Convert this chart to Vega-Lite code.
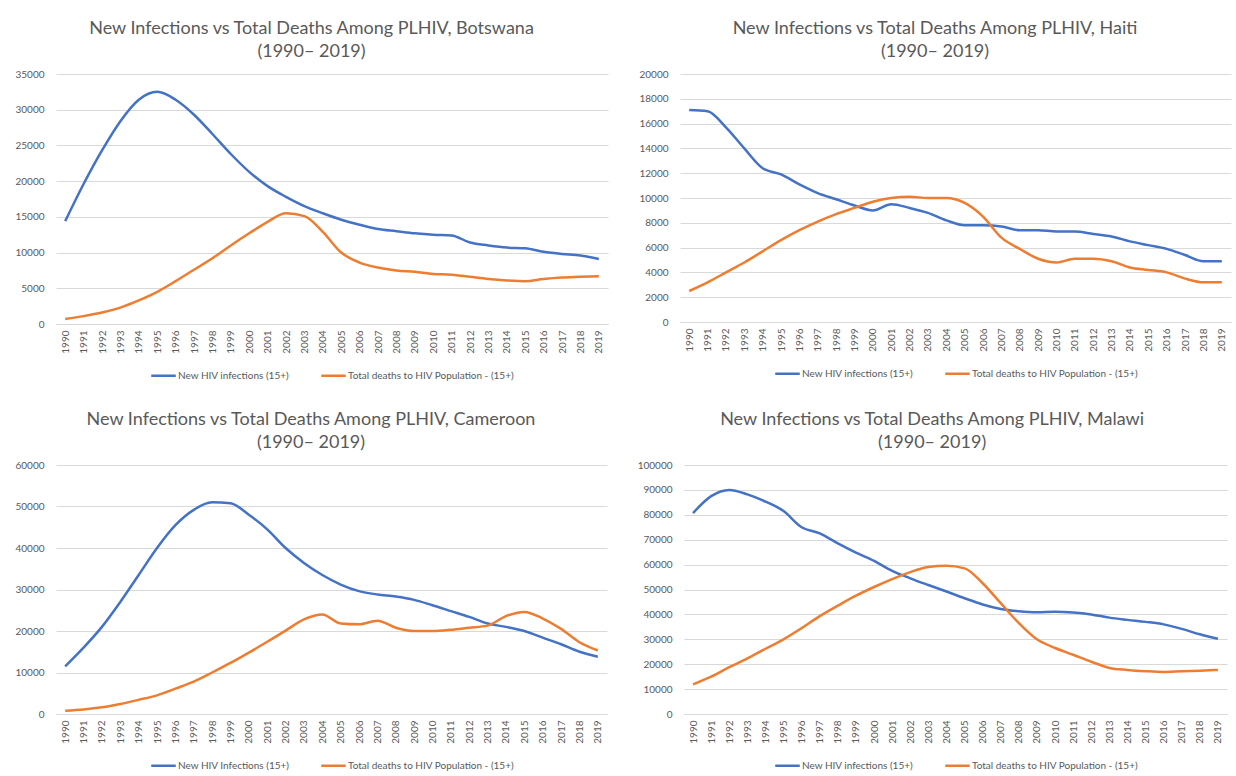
{
  "$schema": "https://vega.github.io/schema/vega-lite/v6.json",
  "background": "white",
  "padding": {"left": 14, "top": 20, "right": 6, "bottom": 4},
  "datasets": {
    "hiv": [
      {"country": "Botswana", "year": 1990, "inf": 14400, "dea": 700},
      {"country": "Botswana", "year": 1991, "inf": 19600, "dea": 1100},
      {"country": "Botswana", "year": 1992, "inf": 24300, "dea": 1600},
      {"country": "Botswana", "year": 1993, "inf": 28400, "dea": 2300},
      {"country": "Botswana", "year": 1994, "inf": 31400, "dea": 3300},
      {"country": "Botswana", "year": 1995, "inf": 32500, "dea": 4500},
      {"country": "Botswana", "year": 1996, "inf": 31400, "dea": 6000},
      {"country": "Botswana", "year": 1997, "inf": 29300, "dea": 7600},
      {"country": "Botswana", "year": 1998, "inf": 26600, "dea": 9200},
      {"country": "Botswana", "year": 1999, "inf": 23800, "dea": 11000},
      {"country": "Botswana", "year": 2000, "inf": 21300, "dea": 12700},
      {"country": "Botswana", "year": 2001, "inf": 19300, "dea": 14300},
      {"country": "Botswana", "year": 2002, "inf": 17800, "dea": 15500},
      {"country": "Botswana", "year": 2003, "inf": 16500, "dea": 15100},
      {"country": "Botswana", "year": 2004, "inf": 15500, "dea": 12900},
      {"country": "Botswana", "year": 2005, "inf": 14600, "dea": 10000},
      {"country": "Botswana", "year": 2006, "inf": 13900, "dea": 8600},
      {"country": "Botswana", "year": 2007, "inf": 13300, "dea": 7900},
      {"country": "Botswana", "year": 2008, "inf": 13000, "dea": 7500},
      {"country": "Botswana", "year": 2009, "inf": 12700, "dea": 7300},
      {"country": "Botswana", "year": 2010, "inf": 12500, "dea": 7000},
      {"country": "Botswana", "year": 2011, "inf": 12400, "dea": 6900},
      {"country": "Botswana", "year": 2012, "inf": 11400, "dea": 6600},
      {"country": "Botswana", "year": 2013, "inf": 11000, "dea": 6300},
      {"country": "Botswana", "year": 2014, "inf": 10700, "dea": 6100},
      {"country": "Botswana", "year": 2015, "inf": 10600, "dea": 6000},
      {"country": "Botswana", "year": 2016, "inf": 10100, "dea": 6300},
      {"country": "Botswana", "year": 2017, "inf": 9800, "dea": 6500},
      {"country": "Botswana", "year": 2018, "inf": 9600, "dea": 6600},
      {"country": "Botswana", "year": 2019, "inf": 9100, "dea": 6700},
      {"country": "Haiti", "year": 1990, "inf": 17100, "dea": 2500},
      {"country": "Haiti", "year": 1991, "inf": 17000, "dea": 3200},
      {"country": "Haiti", "year": 1992, "inf": 15700, "dea": 4000},
      {"country": "Haiti", "year": 1993, "inf": 14000, "dea": 4800},
      {"country": "Haiti", "year": 1994, "inf": 12400, "dea": 5700},
      {"country": "Haiti", "year": 1995, "inf": 11900, "dea": 6600},
      {"country": "Haiti", "year": 1996, "inf": 11100, "dea": 7400},
      {"country": "Haiti", "year": 1997, "inf": 10400, "dea": 8100},
      {"country": "Haiti", "year": 1998, "inf": 9900, "dea": 8700},
      {"country": "Haiti", "year": 1999, "inf": 9400, "dea": 9200},
      {"country": "Haiti", "year": 2000, "inf": 9000, "dea": 9700},
      {"country": "Haiti", "year": 2001, "inf": 9500, "dea": 10000},
      {"country": "Haiti", "year": 2002, "inf": 9200, "dea": 10100},
      {"country": "Haiti", "year": 2003, "inf": 8800, "dea": 10000},
      {"country": "Haiti", "year": 2004, "inf": 8200, "dea": 10000},
      {"country": "Haiti", "year": 2005, "inf": 7800, "dea": 9600},
      {"country": "Haiti", "year": 2006, "inf": 7800, "dea": 8500},
      {"country": "Haiti", "year": 2007, "inf": 7700, "dea": 6800},
      {"country": "Haiti", "year": 2008, "inf": 7400, "dea": 5900},
      {"country": "Haiti", "year": 2009, "inf": 7400, "dea": 5100},
      {"country": "Haiti", "year": 2010, "inf": 7300, "dea": 4800},
      {"country": "Haiti", "year": 2011, "inf": 7300, "dea": 5100},
      {"country": "Haiti", "year": 2012, "inf": 7100, "dea": 5100},
      {"country": "Haiti", "year": 2013, "inf": 6900, "dea": 4900},
      {"country": "Haiti", "year": 2014, "inf": 6500, "dea": 4400},
      {"country": "Haiti", "year": 2015, "inf": 6200, "dea": 4200},
      {"country": "Haiti", "year": 2016, "inf": 5900, "dea": 4000},
      {"country": "Haiti", "year": 2017, "inf": 5400, "dea": 3500},
      {"country": "Haiti", "year": 2018, "inf": 4900, "dea": 3200},
      {"country": "Haiti", "year": 2019, "inf": 4900, "dea": 3200},
      {"country": "Cameroon", "year": 1990, "inf": 11500, "dea": 800},
      {"country": "Cameroon", "year": 1991, "inf": 16000, "dea": 1100},
      {"country": "Cameroon", "year": 1992, "inf": 21000, "dea": 1600},
      {"country": "Cameroon", "year": 1993, "inf": 27000, "dea": 2400},
      {"country": "Cameroon", "year": 1994, "inf": 33500, "dea": 3400},
      {"country": "Cameroon", "year": 1995, "inf": 40000, "dea": 4500},
      {"country": "Cameroon", "year": 1996, "inf": 45500, "dea": 6100},
      {"country": "Cameroon", "year": 1997, "inf": 49200, "dea": 7800},
      {"country": "Cameroon", "year": 1998, "inf": 51000, "dea": 10000},
      {"country": "Cameroon", "year": 1999, "inf": 50800, "dea": 12300},
      {"country": "Cameroon", "year": 2000, "inf": 48000, "dea": 14800},
      {"country": "Cameroon", "year": 2001, "inf": 44500, "dea": 17400},
      {"country": "Cameroon", "year": 2002, "inf": 40000, "dea": 20100},
      {"country": "Cameroon", "year": 2003, "inf": 36400, "dea": 22800},
      {"country": "Cameroon", "year": 2004, "inf": 33500, "dea": 24000},
      {"country": "Cameroon", "year": 2005, "inf": 31200, "dea": 21800},
      {"country": "Cameroon", "year": 2006, "inf": 29600, "dea": 21600},
      {"country": "Cameroon", "year": 2007, "inf": 28800, "dea": 22500},
      {"country": "Cameroon", "year": 2008, "inf": 28300, "dea": 20800},
      {"country": "Cameroon", "year": 2009, "inf": 27500, "dea": 20000},
      {"country": "Cameroon", "year": 2010, "inf": 26200, "dea": 20000},
      {"country": "Cameroon", "year": 2011, "inf": 24800, "dea": 20300},
      {"country": "Cameroon", "year": 2012, "inf": 23400, "dea": 20800},
      {"country": "Cameroon", "year": 2013, "inf": 21800, "dea": 21300},
      {"country": "Cameroon", "year": 2014, "inf": 21000, "dea": 23600},
      {"country": "Cameroon", "year": 2015, "inf": 20000, "dea": 24600},
      {"country": "Cameroon", "year": 2016, "inf": 18400, "dea": 23000},
      {"country": "Cameroon", "year": 2017, "inf": 16800, "dea": 20500},
      {"country": "Cameroon", "year": 2018, "inf": 15000, "dea": 17300},
      {"country": "Cameroon", "year": 2019, "inf": 13800, "dea": 15300},
      {"country": "Malawi", "year": 1990, "inf": 80700, "dea": 11900},
      {"country": "Malawi", "year": 1991, "inf": 87500, "dea": 15000},
      {"country": "Malawi", "year": 1992, "inf": 90000, "dea": 18800},
      {"country": "Malawi", "year": 1993, "inf": 88200, "dea": 22300},
      {"country": "Malawi", "year": 1994, "inf": 85300, "dea": 26200},
      {"country": "Malawi", "year": 1995, "inf": 81500, "dea": 30000},
      {"country": "Malawi", "year": 1996, "inf": 75000, "dea": 34500},
      {"country": "Malawi", "year": 1997, "inf": 72500, "dea": 39300},
      {"country": "Malawi", "year": 1998, "inf": 68500, "dea": 43500},
      {"country": "Malawi", "year": 1999, "inf": 64800, "dea": 47500},
      {"country": "Malawi", "year": 2000, "inf": 61500, "dea": 51000},
      {"country": "Malawi", "year": 2001, "inf": 57500, "dea": 54200},
      {"country": "Malawi", "year": 2002, "inf": 54500, "dea": 57000},
      {"country": "Malawi", "year": 2003, "inf": 51800, "dea": 59000},
      {"country": "Malawi", "year": 2004, "inf": 49200, "dea": 59500},
      {"country": "Malawi", "year": 2005, "inf": 46500, "dea": 58500},
      {"country": "Malawi", "year": 2006, "inf": 44000, "dea": 52500},
      {"country": "Malawi", "year": 2007, "inf": 42200, "dea": 44500},
      {"country": "Malawi", "year": 2008, "inf": 41300, "dea": 36500},
      {"country": "Malawi", "year": 2009, "inf": 40900, "dea": 30000},
      {"country": "Malawi", "year": 2010, "inf": 41100, "dea": 26500},
      {"country": "Malawi", "year": 2011, "inf": 40800, "dea": 23800},
      {"country": "Malawi", "year": 2012, "inf": 40000, "dea": 21000},
      {"country": "Malawi", "year": 2013, "inf": 38700, "dea": 18500},
      {"country": "Malawi", "year": 2014, "inf": 37800, "dea": 17700},
      {"country": "Malawi", "year": 2015, "inf": 37000, "dea": 17200},
      {"country": "Malawi", "year": 2016, "inf": 36000, "dea": 16900},
      {"country": "Malawi", "year": 2017, "inf": 34200, "dea": 17200},
      {"country": "Malawi", "year": 2018, "inf": 32000, "dea": 17400},
      {"country": "Malawi", "year": 2019, "inf": 30200, "dea": 17700}
    ]
  },
  "config": {
    "font": "Lato",
    "view": {"stroke": null},
    "title": {"fontSize": 18, "font": "Lato", "fontWeight": "normal", "color": "#595959", "lineHeight": 23, "offset": 8, "anchor": "middle", "frame": "bounds"},
    "axis": {"labelFont": "Lato", "labelColor": "#595959", "labelFontSize": 10, "ticks": false, "title": null},
    "axisX": {"labelAngle": -90, "grid": false, "domain": true, "domainColor": "#d9d9d9", "labelPadding": 6},
    "axisY": {"grid": true, "gridColor": "#d9d9d9", "domain": false, "labelPadding": 12, "format": "d"},
    "legend": {"orient": "bottom", "direction": "horizontal", "title": null, "labelFont": "Lato", "labelFontSize": 10, "labelColor": "#595959", "labelLimit": 0, "symbolType": "stroke", "symbolSize": 600, "symbolStrokeWidth": 3, "labelOffset": 1, "columnPadding": 26, "offset": 8, "layout": {"bottom": {"anchor": "middle"}}},
    "line": {"interpolate": "monotone", "strokeWidth": 2.5},
    "concat": {"spacing": 30}
  },
  "resolve": {"scale": {"color": "independent", "y": "independent"}, "legend": {"color": "independent"}},
  "vconcat": [
    {
      "hconcat": [
        {
          "title": {"text": ["New Infections vs Total Deaths Among PLHIV, Botswana", "(1990– 2019)"]},
          "data": {"name": "hiv"},
          "width": 552, "height": 250,
          "transform": [{"filter": "datum.country === 'Botswana'"}, {"fold": ["inf", "dea"], "as": ["series", "value"]}],
          "mark": {"type": "line"},
          "encoding": {
            "x": {"field": "year", "type": "ordinal", "scale": {"padding": 0.5}},
            "y": {"field": "value", "type": "quantitative", "scale": {"domain": [0, 35000]}, "axis": {"values": [0, 5000, 10000, 15000, 20000, 25000, 30000, 35000]}},
            "color": {"field": "series", "type": "nominal", "scale": {"domain": ["inf", "dea"], "range": ["#4472C4", "#ED7D31"]}, "legend": {"labelExpr": "datum.label == 'inf' ? 'New HIV infections (15+)' : 'Total deaths to HIV Population - (15+)'"}}
          }
        },
        {
          "title": {"text": ["New Infections vs Total Deaths Among PLHIV, Haiti", "(1990– 2019)"]},
          "data": {"name": "hiv"},
          "width": 551, "height": 248,
          "transform": [{"filter": "datum.country === 'Haiti'"}, {"fold": ["inf", "dea"], "as": ["series", "value"]}],
          "mark": {"type": "line"},
          "encoding": {
            "x": {"field": "year", "type": "ordinal", "scale": {"padding": 0.5}},
            "y": {"field": "value", "type": "quantitative", "scale": {"domain": [0, 20000]}, "axis": {"values": [0, 2000, 4000, 6000, 8000, 10000, 12000, 14000, 16000, 18000, 20000]}},
            "color": {"field": "series", "type": "nominal", "scale": {"domain": ["inf", "dea"], "range": ["#4472C4", "#ED7D31"]}, "legend": {"labelExpr": "datum.label == 'inf' ? 'New HIV infections (15+)' : 'Total deaths to HIV Population - (15+)'"}}
          }
        }
      ],
      "spacing": 30,
      "resolve": {"scale": {"color": "independent", "y": "independent"}, "legend": {"color": "independent"}}
    },
    {
      "hconcat": [
        {
          "title": {"text": ["New Infections vs Total Deaths Among PLHIV, Cameroon", "(1990– 2019)"]},
          "data": {"name": "hiv"},
          "width": 551, "height": 249,
          "transform": [{"filter": "datum.country === 'Cameroon'"}, {"fold": ["inf", "dea"], "as": ["series", "value"]}],
          "mark": {"type": "line"},
          "encoding": {
            "x": {"field": "year", "type": "ordinal", "scale": {"padding": 0.5}},
            "y": {"field": "value", "type": "quantitative", "scale": {"domain": [0, 60000]}, "axis": {"values": [0, 10000, 20000, 30000, 40000, 50000, 60000]}},
            "color": {"field": "series", "type": "nominal", "scale": {"domain": ["inf", "dea"], "range": ["#4472C4", "#ED7D31"]}, "legend": {"labelExpr": "datum.label == 'inf' ? 'New HIV Infections (15+)' : 'Total deaths to HIV Population - (15+)'"}}
          }
        },
        {
          "title": {"text": ["New Infections vs Total Deaths Among PLHIV, Malawi", "(1990– 2019)"]},
          "data": {"name": "hiv"},
          "width": 543, "height": 249,
          "transform": [{"filter": "datum.country === 'Malawi'"}, {"fold": ["inf", "dea"], "as": ["series", "value"]}],
          "mark": {"type": "line"},
          "encoding": {
            "x": {"field": "year", "type": "ordinal", "scale": {"padding": 0.5}},
            "y": {"field": "value", "type": "quantitative", "scale": {"domain": [0, 100000]}, "axis": {"values": [0, 10000, 20000, 30000, 40000, 50000, 60000, 70000, 80000, 90000, 100000]}},
            "color": {"field": "series", "type": "nominal", "scale": {"domain": ["inf", "dea"], "range": ["#4472C4", "#ED7D31"]}, "legend": {"labelExpr": "datum.label == 'inf' ? 'New HIV infections (15+)' : 'Total deaths to HIV Population - (15+)'"}}
          }
        }
      ],
      "spacing": 30,
      "resolve": {"scale": {"color": "independent", "y": "independent"}, "legend": {"color": "independent"}}
    }
  ],
  "spacing": 30
}
